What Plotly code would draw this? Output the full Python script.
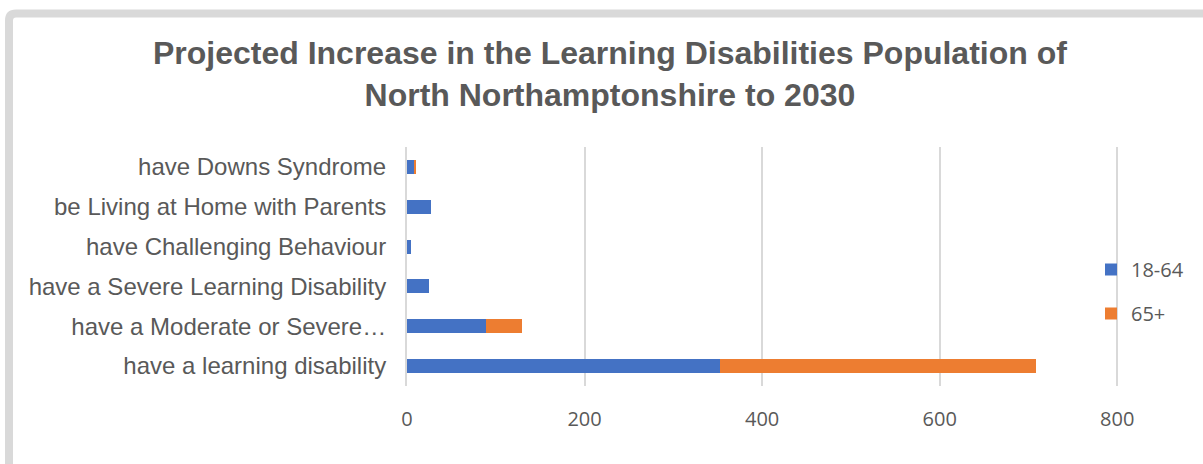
import plotly.graph_objects as go

# Categories listed bottom-to-top as they appear on the category axis
categories = [
    "have a learning disability",
    "have a Moderate or Severe…",
    "have a Severe Learning Disability",
    "have Challenging Behaviour",
    "be Living at Home with Parents",
    "have Downs Syndrome",
]
age_18_64 = [353, 89, 25, 5, 27, 7.5]
age_65_plus = [355, 40, 0, 0, 0, 2.5]

x_ticks = [0, 200, 400, 600, 800]

W, H = 1203, 464
M_L, M_R, M_T, M_B = 407, 84, 147, 78
PLOT_W = W - M_L - M_R
PLOT_H = H - M_T - M_B

GREY_TEXT = "#595959"
GRID = "#d9d9d9"


def px_to_paper_x(px):
    return (px - M_L) / PLOT_W


def px_to_paper_y(py):
    return (H - M_B - py) / PLOT_H


fig = go.Figure()
fig.add_trace(go.Bar(
    y=categories, x=age_18_64, name="18-64", orientation="h",
    marker=dict(color="#4472c4", line=dict(width=0)),
    legendgroup="a",
))
fig.add_trace(go.Bar(
    y=categories, x=age_65_plus, name="65+", orientation="h",
    marker=dict(color="#ed7d31", line=dict(width=0)),
    legendgroup="b",
))

# Outer chart frame (rounded top-left corner, runs off the right and bottom edges)
x0 = px_to_paper_x(9)
ytop = px_to_paper_y(13.5)
r_x = 7 / PLOT_W
r_y = 7 / PLOT_H
x_far = px_to_paper_x(W + 20)
y_far = px_to_paper_y(H + 20)
frame_path = (
    f"M {x0},{y_far} L {x0},{ytop - r_y} "
    f"Q {x0},{ytop} {x0 + r_x},{ytop} L {x_far},{ytop}"
)

fig.update_layout(
    width=W, height=H,
    margin=dict(l=M_L, r=M_R, t=M_T, b=M_B),
    paper_bgcolor="white", plot_bgcolor="white",
    barmode="stack", bargap=0.648,
    title=dict(
        text="Projected Increase in the Learning Disabilities Population of<br>North Northamptonshire to 2030",
        font=dict(family="Liberation Sans", size=32, color=GREY_TEXT, weight="bold"),
        x=0.507, xanchor="center", xref="container",
        y=1 - 64 / H, yanchor="middle", yref="container",
    ),
    xaxis=dict(
        range=[0, 802], tickvals=x_ticks, showgrid=True,
        gridcolor=GRID, gridwidth=2, zeroline=False, showline=False,
        tickfont=dict(family="Open Sans", size=20, color=GREY_TEXT),
        ticklabelstandoff=19, fixedrange=True,
    ),
    yaxis=dict(
        showgrid=False, showline=True, linecolor=GRID, linewidth=2,
        tickfont=dict(family="Liberation Sans", size=24, color=GREY_TEXT),
        ticklabelstandoff=14, fixedrange=True,
    ),
    legend=dict(
        x=px_to_paper_x(1091), xanchor="left",
        y=px_to_paper_y(250), yanchor="top",
        font=dict(family="Open Sans", size=20, color=GREY_TEXT),
        traceorder="grouped", tracegroupgap=15,
        bgcolor="rgba(0,0,0,0)",
    ),
    shapes=[dict(
        type="path", path=frame_path, xref="paper", yref="paper",
        line=dict(color=GRID, width=8), layer="above",
    )],
    showlegend=True,
)

fig.write_html("out.html")
